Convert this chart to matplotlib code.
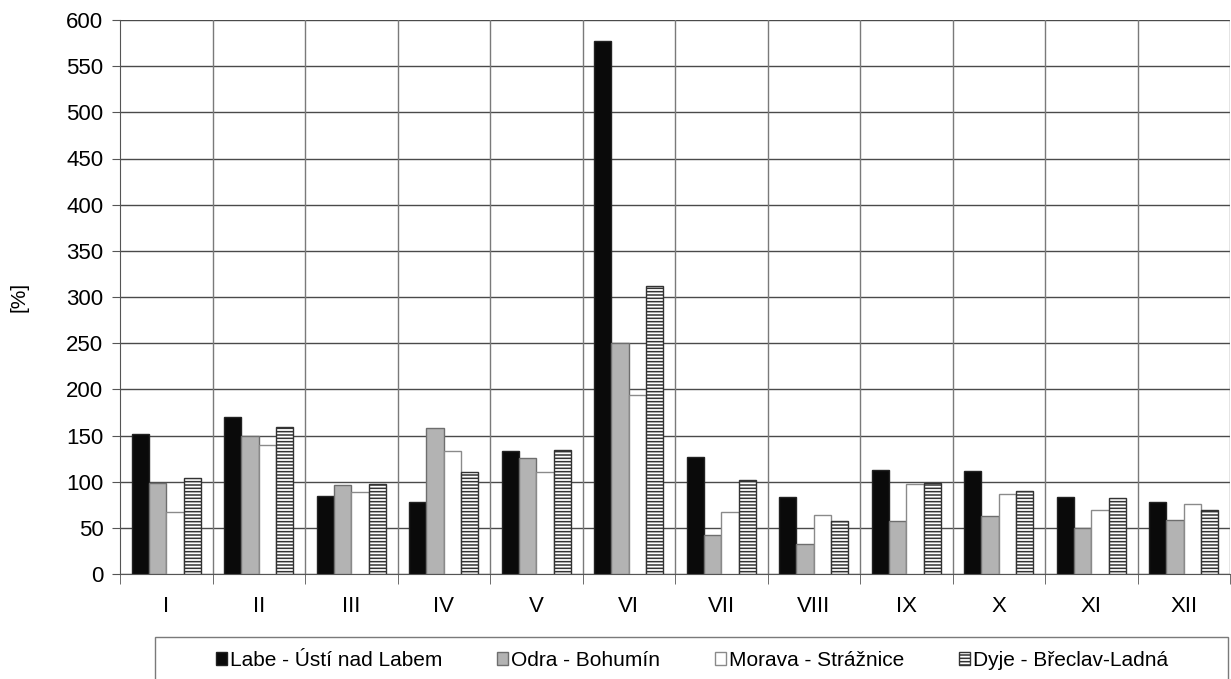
import matplotlib
matplotlib.use("Agg")
import matplotlib.pyplot as plt
import numpy as np
from matplotlib.patches import Rectangle

plt.rcParams['font.family'] = ['Liberation Sans', 'DejaVu Sans']
plt.rcParams['hatch.linewidth'] = 1.1

months = ["I", "II", "III", "IV", "V", "VI", "VII", "VIII", "IX", "X", "XI", "XII"]
series_names = ["Labe - Ústí nad Labem", "Odra - Bohumín", "Morava - Strážnice", "Dyje - Břeclav-Ladná"]
labe = [152, 170, 85, 78, 133, 577, 127, 83, 113, 112, 83, 78]
odra = [99, 149, 96, 158, 126, 250, 42, 33, 57, 63, 50, 58]
morava = [67, 140, 89, 133, 110, 194, 67, 64, 98, 87, 69, 76]
dyje = [104, 159, 98, 110, 134, 312, 102, 57, 99, 90, 82, 69]
yticks = list(range(0, 601, 50))

fig = plt.figure(figsize=(12.31, 6.79), dpi=100)
ax = fig.add_axes([120/1231, 105/679, 1110/1231, 554/679])

x = np.arange(len(months))
w = 0.1875
styles = [
    dict(facecolor="#0a0a0a", edgecolor="#222222", hatch=None),
    dict(facecolor="#b3b3b3", edgecolor="#6e6e6e", hatch=None),
    dict(facecolor="#ffffff", edgecolor="#8a8a8a", hatch=None),
    dict(facecolor="#ffffff", edgecolor="#333333", hatch="-----"),
]
handles = []
for i, (vals, st, name) in enumerate(zip([labe, odra, morava, dyje], styles, series_names)):
    b = ax.bar(x + (i - 1.5) * w, vals, width=w, facecolor=st["facecolor"],
               edgecolor=st["edgecolor"], hatch=st["hatch"], linewidth=1.0,
               label=name, zorder=3)
    handles.append(b)

ax.set_xlim(-0.5, 11.5)
ax.set_ylim(0, 600)
ax.set_yticks(yticks)
ax.set_xticks(x)
ax.set_xticklabels(months)
ax.set_xticks(np.arange(-0.5, 12.0, 1.0), minor=True)
ax.tick_params(axis='x', which='major', length=0, pad=16, labelsize=16)
ax.tick_params(axis='x', which='minor', length=7, color="#555555", direction='out')
ax.tick_params(axis='y', length=6, color="#555555", labelsize=16, pad=6)

for yv in yticks:
    ax.axhline(yv, color="#4a4a4a", linewidth=1.0, zorder=1)
for xv in np.arange(0.5, 11.6, 1.0):
    ax.axvline(xv, color="#7a7a7a", linewidth=1.0, zorder=1)

for s in ["top", "right"]:
    ax.spines[s].set_visible(False)
ax.spines["left"].set_color("#555555")
ax.spines["bottom"].set_color("#555555")

ax.set_ylabel("[%]", fontsize=15)
ax.yaxis.set_label_coords(-92/1110, 0.5)

# legend box
fig.patches.append(Rectangle((155/1231, -0.05), 1073/1231, 0.05 + 42/679,
                             transform=fig.transFigure, facecolor="white",
                             edgecolor="#7a7a7a", linewidth=1.0))
leg = fig.legend(handles=handles, labels=series_names, loc="center",
                 bbox_to_anchor=(692/1231, 1 - 660/679), ncol=4, frameon=False,
                 fontsize=15, handlelength=0.55, handleheight=0.6,
                 handletextpad=0.15, columnspacing=2.6)

fig.savefig("out.png", dpi=100)
